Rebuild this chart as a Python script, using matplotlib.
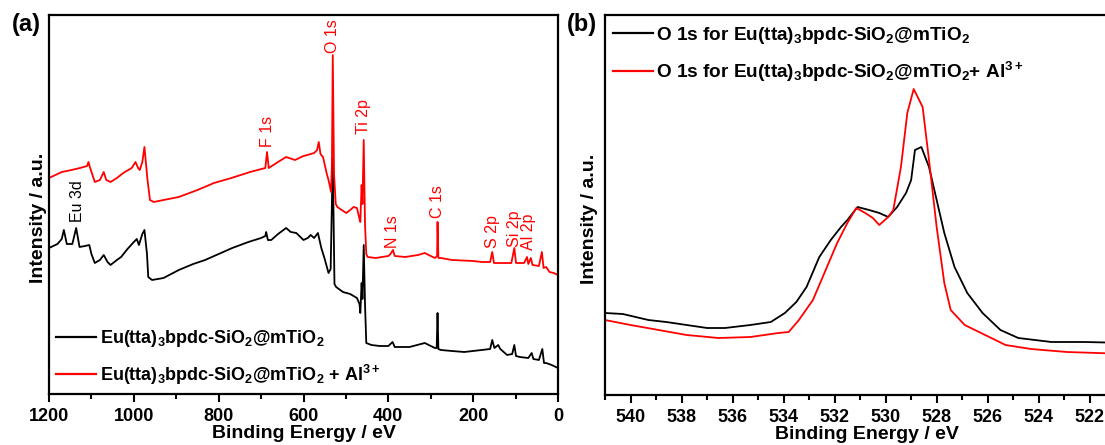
import matplotlib
matplotlib.use("Agg")
import matplotlib.pyplot as plt
from matplotlib.ticker import MultipleLocator, NullLocator, FuncFormatter

plt.rcParams['font.family'] = ['Liberation Sans', 'DejaVu Sans']
plt.rcParams['mathtext.fontset'] = 'custom'
plt.rcParams['mathtext.rm'] = 'Liberation Sans:bold'
plt.rcParams['mathtext.it'] = 'Liberation Sans:bold'
plt.rcParams['mathtext.bf'] = 'Liberation Sans:bold'

# ---------------- Panel (a): survey spectra ----------------
survey_energy_red = [1200, 1170, 1147, 1127, 1110, 1107, 1103, 1092, 1080, 1071, 1065, 1055, 1040,
                     1025, 1005, 996, 990, 986, 980, 975, 968, 962, 953, 930, 894, 850, 811, 770,
                     726, 690, 686, 682, 660, 641, 620, 600, 591, 575, 568, 564, 560, 554, 545,
                     541, 535, 533, 531, 528, 524, 520, 510, 499, 490, 482, 474, 468, 466, 463,
                     461, 458, 455, 452, 449, 430, 400, 395, 389, 385, 360, 330, 314, 300, 290,
                     285, 284, 282, 276, 250, 200, 179, 160, 155, 151, 130, 110, 103, 99, 80,
                     73, 70, 64, 60, 45, 38, 34, 28, 20, 10, 0]
survey_int_red = [216, 222, 224, 226, 228, 232, 226, 212, 214, 222, 214, 212, 216,
                  221, 226, 232, 226, 224, 232, 247, 215, 194, 192, 194, 197, 204, 211, 216,
                  222, 226, 242, 226, 232, 237, 234, 238, 239, 241, 244, 252, 240, 237, 220,
                  214, 202, 230, 339, 220, 190, 187, 184, 181, 184, 187, 186, 175, 172, 209,
                  190, 254, 170, 140, 137, 136, 138, 140, 144, 138, 137, 139, 141, 138, 136,
                  138, 172, 136, 136, 134, 133, 132, 132, 142, 131, 131, 131, 146, 131, 131,
                  137, 130, 136, 129, 128, 142, 126, 127, 122, 121, 119]

survey_energy_black = [1200, 1180, 1170, 1165, 1158, 1145, 1136, 1128, 1115, 1105, 1100, 1092, 1080,
                       1071, 1062, 1055, 1040, 1030, 1015, 1000, 993, 988, 980, 975, 969, 966,
                       957, 930, 894, 860, 832, 800, 768, 730, 700, 690, 688, 684, 676, 660,
                       641, 630, 617, 600, 590, 583, 575, 566, 558, 550, 541, 536, 531, 527,
                       523, 507, 490, 474, 468, 466, 463, 461, 458, 455, 452, 440, 420, 400,
                       390, 385, 350, 314, 300, 290, 286, 284, 282, 276, 250, 221, 180, 160,
                       155, 150, 141, 136, 120, 108, 103, 99, 90, 70, 62, 58, 45, 37, 33, 28,
                       15, 5, 0]
survey_int_black = [146, 150, 155, 164, 150, 150, 166, 147, 148, 149, 140, 131, 134,
                    139, 132, 129, 134, 137, 145, 152, 155, 149, 160, 164, 140, 117,
                    114, 116, 124, 130, 134, 140, 146, 152, 156, 158, 162, 154, 154, 160,
                    166, 162, 161, 154, 156, 159, 156, 161, 146, 135, 121, 125, 236, 110,
                    107, 102, 100, 96, 90, 81, 111, 95, 149, 90, 51, 49, 48, 48,
                    52, 47, 47, 51, 48, 46, 46, 81, 45, 44, 43, 42, 44, 45,
                    54, 46, 49, 45, 39, 40, 49, 38, 37, 36, 41, 35, 34, 45, 31, 31,
                    29, 27, 26]

survey_labels = ["Eu 3d", "F 1s", "O 1s", "Ti 2p", "N 1s", "C 1s", "S 2p", "Si 2p", "Al 2p"]
survey_label_energy = [1133, 686, 531, 458, 389, 284, 155, 103, 70]
survey_label_height = [172, 247, 341, 260, 146, 176, 146, 147, 144]
survey_label_color = ["black", "red", "red", "red", "red", "red", "red", "red", "red"]

legend_a = [r"Eu(tta)$_3$bpdc-SiO$_2$@mTiO$_2$",
            r"Eu(tta)$_3$bpdc-SiO$_2$@mTiO$_2$ + Al$^{3+}$"]

# ---------------- Panel (b): O 1s high resolution ----------------
o1s_energy_black = [541.0, 540.3, 539.3, 538.6, 537.8, 537.0, 536.3, 535.3, 534.5, 533.95, 533.5,
                    533.1, 532.6, 532.15, 531.75, 531.5, 531.1, 530.65, 530.25, 529.9, 529.55,
                    529.2, 529.0, 528.85, 528.6, 528.3, 528.0, 527.7, 527.3, 526.8, 526.2,
                    525.5, 524.8, 523.5, 522.2, 520.5]
o1s_int_black = [82, 81, 75, 73, 70, 67, 67, 70, 73, 82, 93,
                 108, 138, 155, 168, 175, 188, 185, 182, 178, 188,
                 202, 215, 245, 248, 228, 195, 162, 128, 102, 82,
                 65, 57, 53, 53, 52]

o1s_energy_red = [541.0, 540.0, 538.9, 537.8, 536.55, 535.3, 534.2, 533.8, 533.4, 532.85, 532.3,
                  531.9, 531.5, 531.15, 530.8, 530.5, 530.25, 529.9, 529.7, 529.4, 529.15,
                  528.9, 528.55, 528.3, 528.0, 527.7, 527.45, 526.9, 526.1, 525.3, 524.3,
                  522.9, 520.5]
o1s_int_red = [75, 70, 65, 60, 57, 58, 62, 63, 75, 95, 128,
               152, 172, 187, 182, 177, 170, 178, 185, 228, 282,
               306, 288, 235, 168, 112, 85, 70, 60, 50, 46,
               43, 41]

legend_b = [r"O 1s for Eu(tta)$_3$bpdc-SiO$_2$@mTiO$_2$",
            r"O 1s for Eu(tta)$_3$bpdc-SiO$_2$@mTiO$_2$+ Al$^{3+}$"]

# ---------------- Figure ----------------
W, H = 1105, 445
fig = plt.figure(figsize=(W / 100, H / 100), dpi=100)

def px_axes(l, r, t, b):
    return [l / W, (H - b) / H, (r - l) / W, (b - t) / H]

ax1 = fig.add_axes(px_axes(49, 558, 15, 394))
ax2 = fig.add_axes(px_axes(605, 1128, 15, 395))

lw = 1.3
ax1.plot(survey_energy_black, survey_int_black, color="black", lw=lw, label=legend_a[0])
ax1.plot(survey_energy_red, survey_int_red, color="red", lw=lw, label=legend_a[1])
ax1.set_xlim(1200, 0)
ax1.set_ylim(0, 379)

for lab, e, h, c in zip(survey_labels, survey_label_energy, survey_label_height, survey_label_color):
    ax1.text(e, h, lab, rotation=90, color=c, fontsize=11.5, ha="center", va="bottom")

ax2.plot(o1s_energy_black, o1s_int_black, color="black", lw=lw, label=legend_b[0])
ax2.plot(o1s_energy_red, o1s_int_red, color="red", lw=lw, label=legend_b[1])
ax2.set_xlim(541.0, 520.5)
ax2.set_ylim(0, 380)

fmt = FuncFormatter(lambda v, p: f"{v:.0f}")
for ax, major, minor in ((ax1, 200, 100), (ax2, 2, 1)):
    ax.xaxis.set_major_locator(MultipleLocator(major))
    ax.xaxis.set_minor_locator(MultipleLocator(minor))
    ax.xaxis.set_major_formatter(fmt)
    ax.yaxis.set_major_locator(NullLocator())
    ax.tick_params(axis="x", which="major", direction="out", length=6, width=1.5,
                   labelsize=13, pad=4)
    ax.tick_params(axis="x", which="minor", direction="out", length=3.5, width=1.5)
    for lbl in ax.get_xticklabels():
        lbl.set_fontweight("bold")
    for sp in ax.spines.values():
        sp.set_linewidth(1.6)
    ax.set_xlabel("Binding Energy / eV", fontsize=14, fontweight="bold", labelpad=0)
    ax.set_ylabel("Intensity / a.u.", fontsize=14, fontweight="bold")

ax1.yaxis.set_label_coords(-0.004, 0.464)
ax2.yaxis.set_label_coords(-0.013, 0.464)

leg1 = ax1.legend(loc="lower left", bbox_to_anchor=(0.0, 0.0), frameon=False,
                  prop={"weight": "bold", "size": 13}, handlelength=2.2,
                  handletextpad=0.25, labelspacing=0.75, borderaxespad=0.0)
leg2 = ax2.legend(loc="upper left", bbox_to_anchor=(0.0, 0.995), frameon=False,
                  prop={"weight": "bold", "size": 13.7}, handlelength=2.1,
                  handletextpad=0.2, labelspacing=0.75, borderaxespad=0.0)
for leg in (leg1, leg2):
    for line in leg.get_lines():
        line.set_linewidth(1.6)

fig.text(12 / W, 1 - 24 / H, "(a)", fontsize=17, fontweight="bold", ha="left", va="center")
fig.text(567 / W, 1 - 24 / H, "(b)", fontsize=17, fontweight="bold", ha="left", va="center")

fig.savefig("out.png", dpi=100)
